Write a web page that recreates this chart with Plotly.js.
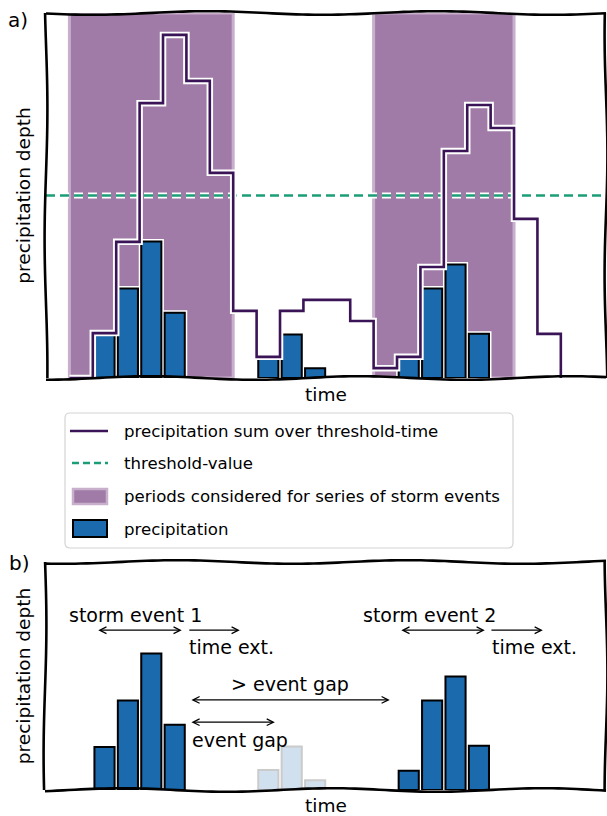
<!DOCTYPE html>
<html><head><meta charset="utf-8">
<script src="https://cdn.plot.ly/plotly-3.0.1.min.js"></script>
<style>html,body{margin:0;padding:0;background:#fff}#chart{width:607px;height:816px}</style>
</head><body><div id="chart"></div>
<script>
// ---------------- data ----------------
const timeSteps = [0,1,2,3,4,5,6,7,8,9,10,11,12,13,14,15,16,17,18,19,20];
const precipitation = [1.18,2.45,3.74,1.79,0,0,0,0.55,1.19,0.27,0,0,0,0.53,2.45,3.11,1.21,0,0,0,0];
const stormEvent    = [1,1,1,1,0,0,0,0,0,0,0,0,0,2,2,2,2,0,0,0,0];
const sumTime  = [-1,0,1,2,3,4,5,6,7,8,9,10,11,12,13,14,15,16,17,18,19,20];
const sumOverThresholdTime = [0,1.23,3.73,7.53,9.40,8.14,5.62,1.84,0.58,1.84,2.14,2.14,1.56,0.27,0.58,3.04,6.22,7.48,6.85,4.36,1.21,0];
const thresholdValue = 5;
const periodStart = [-1, 12];
const periodEnd   = [6, 18];
const legendLabels = ['precipitation sum over threshold-time','threshold-value','periods considered for series of storm events','precipitation'];

// ---------------- style ----------------
const W = 607, H = 816, ML = 46, MR = 1;
const PW = W - ML - MR;
const FONT = 'DejaVu Sans';
const sumColor = '#3b1457', thrColor = '#1b9e77', periodColor = '#a07ba7', periodEdge = '#c8b0cc', barColor = '#1a6aad';
const xRange = [-2, 21.93];
const aRange = [0, 10];
const bRange = [0, 6.25];
const px = x => (x - ML) / PW, py = y => 1 - y / H;

const nz = precipitation.map((v,i)=>v>0);
const tA = timeSteps.filter((t,i)=>nz[i]);
const pA = precipitation.filter((v,i)=>nz[i]);
const tEv = timeSteps.filter((t,i)=>nz[i] && stormEvent[i]>0);
const pEv = precipitation.filter((v,i)=>nz[i] && stormEvent[i]>0);
const tGap = timeSteps.filter((t,i)=>nz[i] && stormEvent[i]===0);
const pGap = precipitation.filter((v,i)=>nz[i] && stormEvent[i]===0);

const barOff = 0.07, barW = 0.86;
const traces = [
  {type:'bar', x:periodStart, y:periodStart.map(()=>aRange[1]), base:0, offset:0,
   width:periodStart.map((s,i)=>periodEnd[i]-s), marker:{color:periodColor, line:{color:periodEdge, width:3}},
   xaxis:'x', yaxis:'y', hoverinfo:'skip', name:legendLabels[2]},
  {type:'scatter', mode:'lines', x:xRange, y:[thresholdValue,thresholdValue], line:{color:'white', width:6, dash:'9px,5px'}, xaxis:'x', yaxis:'y', hoverinfo:'skip'},
  {type:'scatter', mode:'lines', x:xRange, y:[thresholdValue,thresholdValue], line:{color:thrColor, width:2.6, dash:'9px,5px'}, xaxis:'x', yaxis:'y', name:legendLabels[1]},
  {type:'bar', x:tA, y:pA, offset:barOff, width:barW, marker:{color:'white', line:{color:'white', width:5}}, xaxis:'x', yaxis:'y', hoverinfo:'skip'},
  {type:'bar', x:tA, y:pA, offset:barOff, width:barW, marker:{color:barColor, line:{color:'black', width:2}}, xaxis:'x', yaxis:'y', name:legendLabels[3]},
  {type:'scatter', mode:'lines', x:sumTime, y:sumOverThresholdTime, line:{shape:'hv', color:'white', width:6.5}, xaxis:'x', yaxis:'y', hoverinfo:'skip'},
  {type:'scatter', mode:'lines', x:sumTime, y:sumOverThresholdTime, line:{shape:'hv', color:sumColor, width:2.6}, xaxis:'x', yaxis:'y', name:legendLabels[0]},
  {type:'bar', x:tGap, y:pGap, offset:barOff, width:barW, opacity:0.2, marker:{color:barColor, line:{color:'black', width:2}}, xaxis:'x2', yaxis:'y2', name:'gap'},
  {type:'bar', x:tEv, y:pEv, offset:barOff, width:barW, marker:{color:barColor, line:{color:'black', width:2}}, xaxis:'x2', yaxis:'y2', name:'storm events'}
];

// --------- hand-drawn looking frames ----------
function wob(x0,y0,x1,y1,amp,per,ph){
  const L = Math.hypot(x1-x0,y1-y0), n = Math.max(2, Math.ceil(L/6));
  const nx = -(y1-y0)/L, ny = (x1-x0)/L;
  let d='';
  for(let i=0;i<=n;i++){
    const s=i/n, o=amp*Math.sin(2*Math.PI*s*L/per+ph);
    const x=x0+(x1-x0)*s+nx*o, y=y0+(y1-y0)*s+ny*o;
    d+=(i?'L':'M')+px(x).toFixed(5)+','+py(y).toFixed(5);
  }
  return d;
}
function frame(l,t,r,b,seed){
  return [
    wob(l,t,r,t,1.8,230,seed), wob(l,b,r,b,1.8,210,seed+1.3),
    wob(l,t,l,b,1.4,260,seed+2.1), wob(r,t,r,b,1.4,240,seed+0.7)
  ].map(p=>({type:'path', path:p, xref:'paper', yref:'paper', line:{color:'black', width:2.6}, layer:'above'}));
}
const shapes = [...frame(46,13,606,378,0.3), ...frame(45,562,606,790,1.1)];

// --------- legend box ---------
function rrect(x0,y0,x1,y1,r){
  return `M${px(x0+r)},${py(y0)} L${px(x1-r)},${py(y0)} Q${px(x1)},${py(y0)} ${px(x1)},${py(y0+r)} L${px(x1)},${py(y1-r)} Q${px(x1)},${py(y1)} ${px(x1-r)},${py(y1)} L${px(x0+r)},${py(y1)} Q${px(x0)},${py(y1)} ${px(x0)},${py(y1-r)} L${px(x0)},${py(y0+r)} Q${px(x0)},${py(y0)} ${px(x0+r)},${py(y0)} Z`;
}
shapes.push({type:'path', path:rrect(65,413,513,548,5), xref:'paper', yref:'paper', fillcolor:'rgba(255,255,255,0.85)', line:{color:'#d4d4d4', width:1.2}, layer:'above'});
const legY = [431, 463, 497, 529];
shapes.push({type:'line', xref:'paper', yref:'paper', x0:px(70), x1:px(108), y0:py(legY[0]), y1:py(legY[0]), line:{color:sumColor, width:2.6}, layer:'above'});
shapes.push({type:'line', xref:'paper', yref:'paper', x0:px(72), x1:px(108), y0:py(legY[1]), y1:py(legY[1]), line:{color:thrColor, width:2.6, dash:'7px,4px'}, layer:'above'});
shapes.push({type:'rect', xref:'paper', yref:'paper', x0:px(73), x1:px(107), y0:py(legY[2]-8), y1:py(legY[2]+7), fillcolor:periodColor, line:{color:periodEdge, width:2.5}, layer:'above'});
shapes.push({type:'rect', xref:'paper', yref:'paper', x0:px(73), x1:px(107), y0:py(legY[3]-9), y1:py(legY[3]+8), fillcolor:barColor, line:{color:'black', width:2}, layer:'above'});

const annotations = legendLabels.map((t,i)=>({xref:'paper', yref:'paper', x:px(122), y:py(legY[i]), text:t, showarrow:false, xanchor:'left', yanchor:'middle', font:{size:16.6, family:FONT, color:'black'}}));
annotations.push({xref:'paper', yref:'paper', x:px(18), y:py(20), text:'a)', showarrow:false, xanchor:'center', yanchor:'middle', font:{size:20, family:FONT}});
annotations.push({xref:'paper', yref:'paper', x:px(19), y:py(563), text:'b)', showarrow:false, xanchor:'center', yanchor:'middle', font:{size:20, family:FONT}});

// --------- panel b labels & arrows ---------
const tf = {size:19, family:FONT, color:'black'};
const txt = (x,y,t,anchor)=>({xref:'x2', yref:'y2', x, y, text:t, showarrow:false, xanchor:anchor, yanchor:'middle', font:tf});
const arr = (x0,x1,y,both)=>({xref:'x2', yref:'y2', axref:'x2', ayref:'y2', x:x1, y, ax:x0, ay:y, text:'', showarrow:true,
  arrowhead:5, startarrowhead:5, arrowside: both?'end+start':'end', arrowsize:1.1, startarrowsize:1.1, arrowwidth:1.2, arrowcolor:'black', standoff:0, startstandoff:0});
annotations.push(
  txt(1.84,4.79,'storm event 1','center'),
  arr(0.17,3.80,4.38,true),
  arr(4.06,6.28,4.38,false),
  txt(4.02,3.92,'time ext.','left'),
  txt(8.42,2.90,'&gt; event gap','center'),
  arr(4.15,12.69,2.47,true),
  arr(4.15,7.78,1.86,true),
  txt(4.15,1.37,'event gap','left'),
  txt(14.4,4.79,'storm event 2','center'),
  arr(13.12,16.75,4.38,true),
  arr(16.97,19.23,4.38,false),
  txt(16.97,3.92,'time ext.','left')
);

const axX = (anchor)=>({range:xRange, anchor, showgrid:false, zeroline:false, showticklabels:false, ticks:'', showline:false, fixedrange:true,
  title:{text:'time', font:{size:18.5, family:FONT, color:'black'}, standoff:10}});
const axY = (dom,rng,anchor)=>({domain:dom, range:rng, anchor, showgrid:false, zeroline:false, showticklabels:false, ticks:'', showline:false, fixedrange:true,
  title:{text:'precipitation depth', font:{size:18.5, family:FONT, color:'black'}, standoff:9}});

const layout = {
  width:W, height:H, margin:{l:ML, r:MR, t:0, b:0, pad:0},
  paper_bgcolor:'white', plot_bgcolor:'rgba(0,0,0,0)', showlegend:false, barmode:'overlay',
  font:{family:FONT, color:'black'},
  xaxis:axX('y'), yaxis:axY([py(378),py(13)], aRange, 'x'),
  xaxis2:axX('y2'), yaxis2:axY([py(790),py(562)], bRange, 'x2'),
  shapes, annotations
};
Plotly.newPlot('chart', traces, layout, {displayModeBar:false, staticPlot:true});
</script></body></html>
